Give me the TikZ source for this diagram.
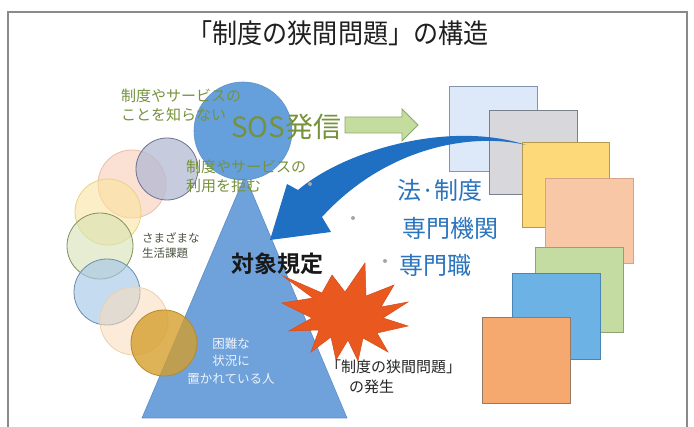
\documentclass[tikz,border=0pt]{standalone}
\usepackage{fontspec}
\setmainfont{Noto Sans CJK JP}[BoldFont={Noto Sans CJK JP Bold}]
\definecolor{olivetxt}{HTML}{76923C}
\definecolor{bluetxt}{HTML}{2A74BE}
\definecolor{framec}{HTML}{8A8A8A}
\definecolor{trif}{HTML}{6FA1DA}
\definecolor{tried}{HTML}{5A8CCC}
\definecolor{sosf}{HTML}{66A0DC}
\definecolor{arrowb}{HTML}{1F6FC2}
\definecolor{starc}{HTML}{E9581F}
\begin{document}
\begin{tikzpicture}[x=1pt,y=-1pt,
  lbl/.style={inner sep=0pt},
  bub/.style={line width=0.8pt},
  sq/.style={line width=0.8pt},
  dotc/.style={fill=gray!70,draw=none}]
\useasboundingbox (0,0) rectangle (694,427);
\fill[white] (0,0) rectangle (694,427);
% frame
\draw[framec,line width=1.3pt] (8,427) -- (8,12) -- (687,12) -- (687,427);
% title
\node[lbl,font=\fontsize{27}{31}\selectfont,text=black!88,xscale=0.93,transform shape] (title) at (338,33) {「制度の狭間問題」の構造};

% triangle
\filldraw[fill=trif,draw=tried,line width=0.6pt] (245,176) -- (347,418) -- (142,418) -- cycle;

% left circles
\filldraw[bub,fill={rgb,255:red,247;green,201;blue,176},fill opacity=0.55,draw={rgb,255:red,236;green,190;blue,166}] (132,184) circle[radius=34pt];
\filldraw[bub,fill={rgb,255:red,180;green,186;blue,212},fill opacity=0.75,draw={rgb,255:red,110;green,115;blue,145}] (167,169) circle[radius=31pt];
\filldraw[bub,fill={rgb,255:red,251;green,227;blue,154},fill opacity=0.55,draw={rgb,255:red,235;green,210;blue,130}] (108,212) circle[radius=33pt];
\filldraw[bub,fill={rgb,255:red,214;green,226;blue,180},fill opacity=0.6,draw={rgb,255:red,130;green,145;blue,90}] (100,246) circle[radius=33pt];
\filldraw[bub,fill={rgb,255:red,165;green,200;blue,233},fill opacity=0.65,draw={rgb,255:red,110;green,140;blue,172}] (107,292) circle[radius=33pt];
\filldraw[bub,fill={rgb,255:red,249;green,220;blue,184},fill opacity=0.55,draw={rgb,255:red,240;green,208;blue,168}] (134,321) circle[radius=34pt];
\filldraw[bub,fill={rgb,255:red,213;green,158;blue,42},fill opacity=0.78,draw={rgb,255:red,184;green,137;blue,42}] (164,343) circle[radius=33pt];

% SOS circle
\filldraw[fill=sosf,draw={rgb,255:red,95;green,145;blue,200},line width=0.6pt] (243,131) circle[radius=49pt];

% squares stack
\filldraw[sq,fill={rgb,255:red,221;green,233;blue,248},draw={rgb,255:red,131;green,148;blue,176}] (449,86) rectangle (537,171);
\filldraw[sq,fill={rgb,255:red,216;green,216;blue,220},draw={rgb,255:red,122;green,127;blue,140}] (489,110) rectangle (577,194);
\filldraw[sq,fill={rgb,255:red,253;green,217;blue,122},draw={rgb,255:red,180;green,154;blue,80}] (522,142) rectangle (609,227);
\filldraw[sq,fill={rgb,255:red,248;green,199;blue,165},draw={rgb,255:red,214;green,164;blue,132}] (545,178) rectangle (633,263);
\filldraw[sq,fill={rgb,255:red,196;green,219;blue,162},draw={rgb,255:red,142;green,164;blue,114}] (535,247) rectangle (623,332);
\filldraw[sq,fill={rgb,255:red,109;green,178;blue,228},draw={rgb,255:red,74;green,134;blue,181}] (512,273) rectangle (600,359);
\filldraw[sq,fill={rgb,255:red,246;green,169;blue,110},draw={rgb,255:red,150;green,120;blue,100}] (482,317) rectangle (570,403);

% green arrow
\filldraw[fill={rgb,255:red,197;green,220;blue,159},draw={rgb,255:red,138;green,168;blue,106},line width=0.9pt]
  (345,117) -- (402,117) -- (402,109) -- (418,125) -- (402,141) -- (402,133) -- (345,133) -- cycle;

% blue curved arrow
\fill[arrowb] (298,190) .. controls (345,150) and (450,120) .. (526,145)
  .. controls (470,132) and (385,148) .. (322,217)
  -- (331,232) -- (270,240) -- (287,184) -- cycle;

% dots
\fill[dotc] (310,184) circle[radius=2pt];
\fill[dotc] (353,218) circle[radius=2pt];
\fill[dotc] (385,261) circle[radius=2pt];

% starburst
\filldraw[fill=starc,draw={rgb,255:red,215;green,75;blue,25},line width=0.5pt]
  (311,352) -- (319,330) -- (289,331) -- (312,318) -- (282,303) -- (313,298) --
  (283,276) -- (322,293) -- (332,275) -- (345,292) -- (365,263) -- (366,296) --
  (394,285) -- (381,307) -- (408,302) -- (383,318) -- (408,326) -- (377,333) --
  (388,352) -- (363,338) -- (358,361) -- (348,340) -- (336,360) -- (331,337) -- cycle;

% texts
\node[lbl,anchor=west,font=\fontsize{15}{19}\selectfont,text=olivetxt,align=left] (know) at (121,105) {制度やサービスの\\ことを知らない};
\node[lbl,anchor=west,font=\fontsize{28}{32}\selectfont,text=olivetxt] (sos) at (231,127) {SOS発信};
\node[lbl,anchor=west,font=\fontsize{15}{19}\selectfont,text=olivetxt,align=left] (refuse) at (186,176) {制度やサービスの\\利用を拒む};
\node[lbl,anchor=west,font=\fontsize{11.5}{15}\selectfont,text={rgb,255:red,75;green,85;blue,65},align=left] (issues) at (142,246) {さまざまな\\生活課題};
\node[lbl,font=\bfseries\fontsize{23}{27}\selectfont,text=black!90] (target) at (277,264) {対象規定};
\node[lbl,font=\fontsize{12.5}{17.5}\selectfont,text={rgb,255:red,238;green,243;blue,251},align=center] (person) at (231,361) {困難な\\状況に\\置かれている人};
\node[lbl,anchor=west,font=\fontsize{24}{28}\selectfont,text=bluetxt] (law) at (397,190) {法·制度};
\node[lbl,anchor=west,font=\fontsize{24}{28}\selectfont,text=bluetxt] (org) at (402,228) {専門機関};
\node[lbl,anchor=west,font=\fontsize{24}{28}\selectfont,text=bluetxt] (prof) at (399,265) {専門職};
\node[lbl,anchor=west,font=\fontsize{15}{19}\selectfont,text=black!85] (gap1) at (326,367) {「制度の狭間問題」};
\node[lbl,anchor=west,font=\fontsize{15}{19}\selectfont,text=black!85] (gap2) at (349,387) {の発生};
\end{tikzpicture}
\end{document}
